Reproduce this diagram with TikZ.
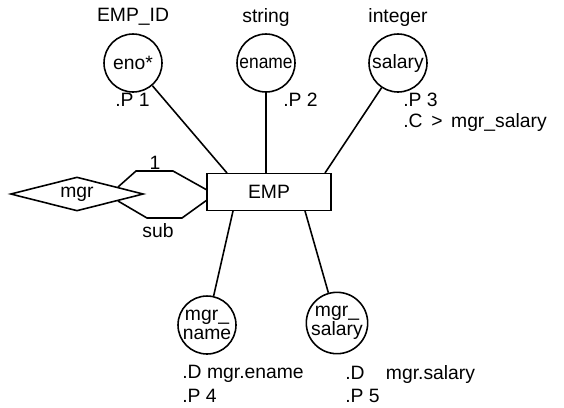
\documentclass[tikz,border=0pt]{standalone}
\usepackage{fontspec}
\setmainfont{Liberation Sans}
\usetikzlibrary{shapes.geometric}
\begin{document}
\begin{tikzpicture}[x=0.02cm,y=-0.02cm,
  attr/.style={circle,draw,line width=0.9pt,minimum size=1.16cm,inner sep=0pt,font=\fontsize{11}{11}\selectfont,align=center},
  lbl/.style={font=\fontsize{11}{12}\selectfont,inner sep=0pt},
  note/.style={font=\fontsize{11}{12}\selectfont,inner sep=0pt,anchor=west},
  conn/.style={line width=0.9pt}]
\useasboundingbox (0,0) rectangle (564,407);
% top attributes
\node[lbl] (tEMPID) at (133,17) {EMP\_ID};
\node[lbl] (tstring) at (266,17) {string};
\node[lbl] (tinteger) at (398,17) {integer};
\node[attr] (eno) at (133,63) {eno*};
\node[attr] (ename) at (266,63) {\scalebox{0.9}[1]{ename}};
\node[attr] (salary) at (398,63) {salary};
\node[note] (p1) at (115,100) {.P 1};
\node[note] (p2) at (283,100) {.P 2};
\node[note] (p3) at (403,100) {.P 3};
\node[note] (c3) at (403,122) {.C\,\ >\,\ mgr\_salary};
% entity
\node[draw,line width=0.9pt,minimum width=2.48cm,minimum height=0.74cm,inner sep=0pt,font=\fontsize{11}{12}\selectfont] (emp) at (269,192) {EMP};
% relationship
\node[diamond,draw,line width=0.9pt,aspect=4,inner sep=0pt,minimum width=2.66cm,minimum height=0.68cm,font=\fontsize{11}{12}\selectfont] (mgr) at (77,194) {mgr};
% bottom attributes
\node[attr] (mname) at (207,325) {mgr\_\\[0pt]name};
\node[attr] (msal) at (337,323) {mgr\_\\[0pt]salary};
\node[note] (d4) at (182,374) {.D mgr.ename};
\node[note] (p4) at (182,396) {.P 4};
\node[note] (d5) at (345,374) {.D\hspace{1.1em}mgr.salary};
\node[note] (p5) at (345,396) {.P 5};
% connector points
\coordinate (a1) at (227,173);
\coordinate (a2) at (266,173);
\coordinate (a3) at (325,173);
\coordinate (b1) at (233,211);
\coordinate (b2) at (305,211);
\coordinate (u0) at (118,187);
\coordinate (u1) at (136,171);
\coordinate (u2) at (173,171);
\coordinate (u3) at (207,190);
\coordinate (l0) at (118,201);
\coordinate (l1) at (147,218);
\coordinate (l2) at (182,218);
\coordinate (l3) at (207,200);
\draw[conn] (eno) -- (a1);
\draw[conn] (ename) -- (a2);
\draw[conn] (salary) -- (a3);
\draw[conn] (b1) -- (mname);
\draw[conn] (b2) -- (msal);
\draw[conn] (u0) -- (u1) -- (u2) -- (u3);
\draw[conn] (l0) -- (l1) -- (l2) -- (l3);
\node[lbl] (one) at (155,163) {1};
\node[lbl] (sub) at (158,231) {sub};
\end{tikzpicture}
\end{document}
